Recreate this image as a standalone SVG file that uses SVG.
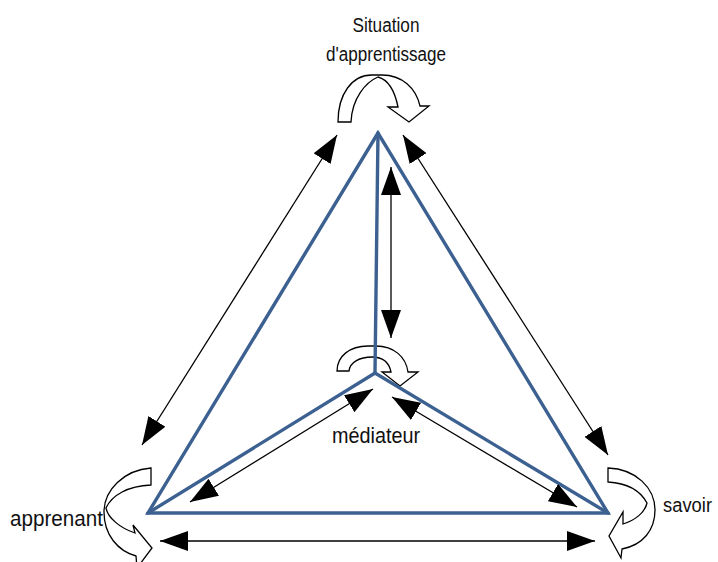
<svg xmlns="http://www.w3.org/2000/svg" width="718" height="562" viewBox="0 0 718 562">
<defs>
<style>
.lbl{font-family:"Liberation Sans",Arial,sans-serif;fill:#111}
.curl{fill:#fff;stroke:#000;stroke-width:1.3;stroke-linejoin:miter}
.edge{fill:none;stroke:#3c6191;stroke-width:3.4;stroke-linejoin:miter;stroke-linecap:round}
.con{fill:none;stroke:#000;stroke-width:1.3;marker-start:url(#ah);marker-end:url(#ah)}
</style>
<marker id="ah" viewBox="0 0 28 20" refX="28" refY="10" markerWidth="28" markerHeight="20" markerUnits="userSpaceOnUse" orient="auto-start-reverse">
<path d="M0,0 L28,10 L0,20 Z" fill="#000"/>
</marker>
</defs>
<rect width="718" height="562" fill="#fff"/>

<g id="node-situation">
<text class="lbl" x="386" y="32" font-size="20" text-anchor="middle" textLength="67" lengthAdjust="spacingAndGlyphs">Situation</text>
<text class="lbl" x="386" y="61" font-size="20" text-anchor="middle" textLength="120" lengthAdjust="spacingAndGlyphs">d'apprentissage</text>
<path class="curl" d="M338,122 C338,94 352,75 372,75 L382,75 C402,75 416,88 420,106 L429,106 L409,122 L388,107 L398,107 C395,92 389,80 378,77 C366,82 352,98 351,122 Z"/>
</g>

<g id="node-mediateur">
<path class="curl" d="M337,371 C337,356 350,346 368,346 L376,346 C394,346 406,357 408,372 L418,372 L400,386 L382,372 L391,372 C389,362 382,357 372,357 C360,357 350,362 349,371 Z"/>
<text class="lbl" x="376" y="443" font-size="21.5" text-anchor="middle" textLength="88" lengthAdjust="spacingAndGlyphs">médiateur</text>
</g>

<g id="node-apprenant">
<path class="curl" d="M151,468 C124,470 104,490 104,512 C104,535 118,551 136,556 L137,568 L152,548 L133,525 L135,533 C120,528 108,518 106,508 C112,495 128,486 151,485 Z"/>
<text class="lbl" x="10" y="526" font-size="21.5" textLength="93" lengthAdjust="spacingAndGlyphs">apprenant</text>
</g>

<g id="node-savoir">
<path class="curl" d="M608,468 C636,469 655,488 655,510 C655,530 643,545 622,549 L621,558 L609,536 L623,512 L623,524 C636,520 645,512 647,503 C640,490 626,483 608,482 Z"/>
<text class="lbl" x="663" y="512" font-size="20" textLength="49" lengthAdjust="spacingAndGlyphs">savoir</text>
</g>

<g id="tetrahedron">
<path class="edge" d="M378,133 L148,513 L608,513 Z"/>
<path class="edge" d="M378,133 L375,373"/>
<path class="edge" d="M148,513 L375,373 L608,513"/>
</g>

<g id="connectors">
<line class="con" x1="337" y1="135" x2="142" y2="445"/>
<line class="con" x1="403" y1="135" x2="608" y2="455"/>
<line class="con" x1="391" y1="167" x2="391" y2="338"/>
<line class="con" x1="160" y1="541" x2="595" y2="541"/>
<line class="con" x1="373" y1="389" x2="190" y2="502"/>
<line class="con" x1="392" y1="397" x2="577" y2="507"/>
</g>
</svg>
